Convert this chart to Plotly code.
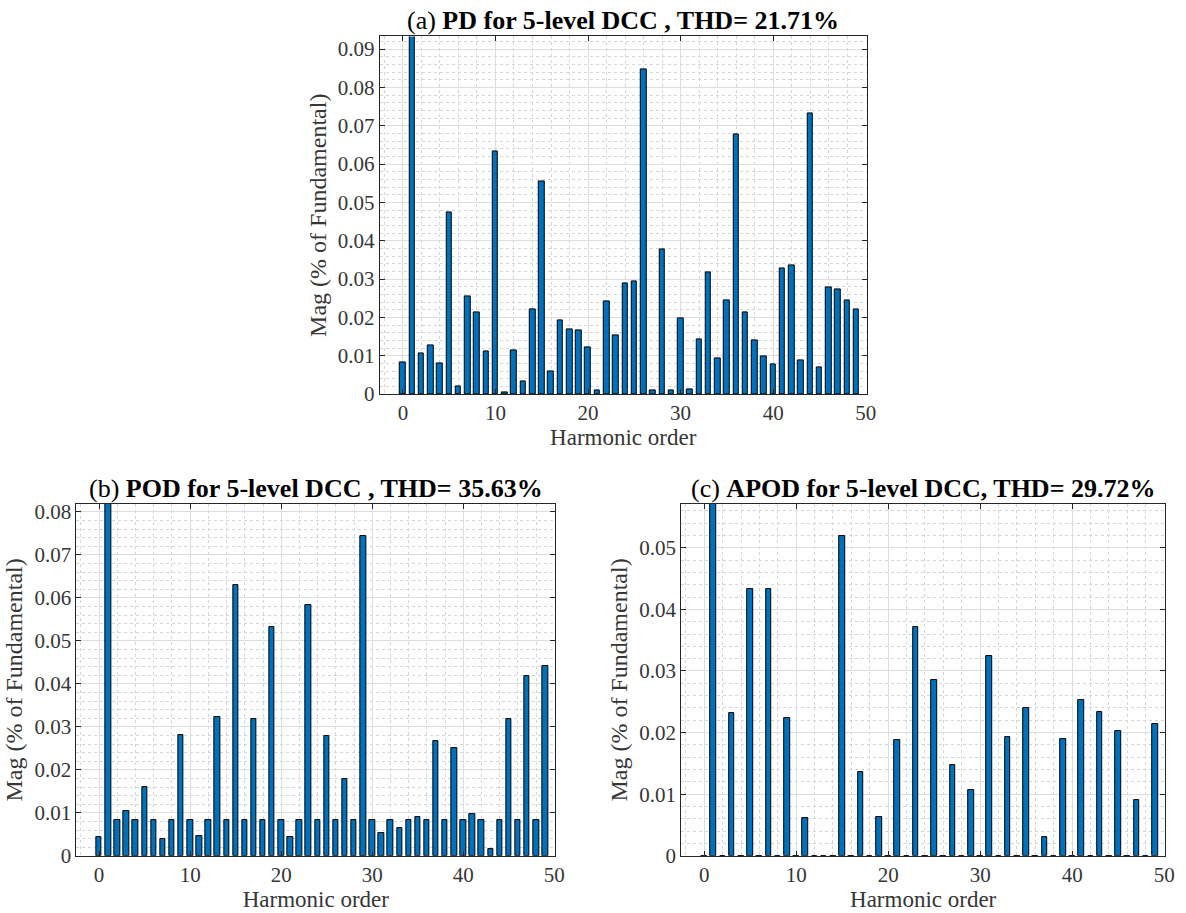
import plotly.graph_objects as go

# Harmonic spectra (magnitude in % of fundamental); index 1 is the fundamental
harmonic_order = list(range(50))

pd_mag = [0.0083, 100, 0.0107, 0.0127, 0.0079, 0.0475, 0.0021, 0.0254, 0.0212, 0.0111,
          0.0634, 0.0004, 0.0113, 0.0032, 0.0221, 0.0554, 0.0058, 0.0191, 0.0169, 0.0166,
          0.0121, 0.0009, 0.0242, 0.0154, 0.0289, 0.0294, 0.0848, 0.0009, 0.0377, 0.0010,
          0.0198, 0.0012, 0.0142, 0.0317, 0.0093, 0.0243, 0.0678, 0.0213, 0.0140, 0.0099,
          0.0077, 0.0327, 0.0336, 0.0088, 0.0732, 0.0069, 0.0278, 0.0272, 0.0245, 0.0220]

pod_mag = [0.0043, 100, 0.0084, 0.0104, 0.0084, 0.0160, 0.0084, 0.0040, 0.0084, 0.0282,
           0.0084, 0.0047, 0.0084, 0.0323, 0.0084, 0.0631, 0.0084, 0.0317, 0.0084, 0.0533,
           0.0084, 0.0043, 0.0084, 0.0583, 0.0084, 0.0279, 0.0084, 0.0179, 0.0084, 0.0744,
           0.0084, 0.0054, 0.0084, 0.0064, 0.0084, 0.0090, 0.0084, 0.0266, 0.0084, 0.0250,
           0.0084, 0.0098, 0.0084, 0.0015, 0.0084, 0.0317, 0.0084, 0.0418, 0.0084, 0.0441]

apod_mag = [0, 100, 0, 0.0231, 0, 0.0433, 0, 0.0433, 0, 0.0223,
            0, 0.0062, 0, 0.0000, 0, 0.0519, 0, 0.0136, 0, 0.0063,
            0, 0.0188, 0, 0.0371, 0, 0.0286, 0, 0.0147, 0, 0.0107,
            0, 0.0325, 0, 0.0193, 0, 0.0240, 0, 0.0031, 0, 0.0190,
            0, 0.0253, 0, 0.0234, 0, 0.0202, 0, 0.0090, 0, 0.0214]

titles = ["(a) <b>PD for 5-level DCC , THD= 21.71%</b>",
          "(b) <b>POD for 5-level DCC , THD= 35.63%</b>",
          "(c) <b>APOD for 5-level DCC, THD= 29.72%</b>"]

W, H = 1186, 913
FONT = "Liberation Serif"
AX_COLOR = "#262626"
TEXT_COLOR = "#363636"
BAR_COLOR = "#0072BD"

# plot-area boxes in pixels: (left, right, top, bottom)
boxes = [(383, 874, 33, 397), (77, 560, 509, 867), (687, 1175, 509, 867)]
spectra = [pd_mag, pod_mag, apod_mag]

fig = go.Figure()

for i, (mag, box, title) in enumerate(zip(spectra, boxes, titles)):
    n = "" if i == 0 else str(i + 1)
    left, right, top, bottom = box
    # y limit: 10% above the largest harmonic (fundamental excluded)
    ymax = 1.1 * max(m for k, m in enumerate(mag) if k != 1)

    fig.add_trace(go.Bar(
        x=harmonic_order, y=mag, width=0.6,
        marker=dict(color=BAR_COLOR, line=dict(color="black", width=1)),
        xaxis="x" + n, yaxis="y" + n, showlegend=False,
    ))

    common = dict(
        showline=True, linecolor=AX_COLOR, linewidth=1, mirror="ticks",
        ticks="inside", ticklen=5, tickcolor=AX_COLOR, tickwidth=1,
        showgrid=True, gridcolor="#dedede", gridwidth=1, zeroline=False,
        tickfont=dict(family=FONT, size=21, color=TEXT_COLOR),
    )
    fig.layout["xaxis" + n] = dict(
        common,
        domain=[left / W, right / W], anchor="y" + n,
        range=[-2.5, 50.1], tickvals=[0, 10, 20, 30, 40, 50],
        minor=dict(dtick=2, tick0=0, showgrid=True, gridcolor="#d6d6d6", griddash="dot",
                   ticks=""),
        title=dict(text="Harmonic order", font=dict(family=FONT, size=23, color=TEXT_COLOR),
                   standoff=4),
    )
    fig.layout["yaxis" + n] = dict(
        common,
        domain=[1 - bottom / H, 1 - top / H], anchor="x" + n,
        range=[0, ymax], dtick=0.01, tick0=0,
        minor=dict(dtick=0.002, tick0=0, showgrid=True, gridcolor="#d6d6d6", griddash="dot",
                   ticks=""),
        title=dict(text="Mag (% of Fundamental)",
                   font=dict(family=FONT, size=24, color=TEXT_COLOR), standoff=4),
    )
    fig.add_annotation(
        text=title, xref="paper", yref="paper",
        x=(left + right) / 2 / W, y=1 - top / H, xanchor="center", yanchor="bottom",
        yshift=-1, showarrow=False, font=dict(family=FONT, size=26, color="black"),
    )

fig.update_layout(
    width=W, height=H, margin=dict(l=0, r=0, t=0, b=0),
    paper_bgcolor="white", plot_bgcolor="white", bargap=0,
)

fig.write_html("out.html")
